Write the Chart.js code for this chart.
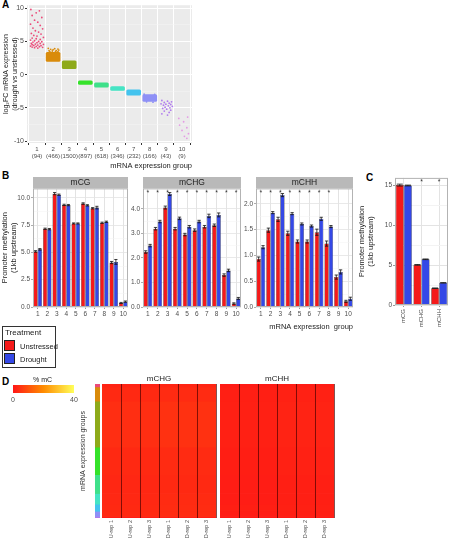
<!DOCTYPE html>
<html>
<head>
<meta charset="utf-8">
<script src="https://cdn.jsdelivr.net/npm/chart.js@4.4.1/dist/chart.umd.min.js"></script>
<style>
  body { margin: 0; background: #fff; width: 451px; height: 540px; position: relative; overflow: hidden;
         font-family: "Liberation Sans", Arial, sans-serif; }
  .box { position: absolute; }
  .tag { position: absolute; font-weight: bold; font-size: 10px; color: #000; }
  .legend { position: absolute; left: 2px; top: 326px; width: 52px; height: 40px; border: 1px solid #333; font-size: 7.5px; color: #222; }
  .legend .sw { position: absolute; left: 1px; width: 11px; height: 11px; border: 1px solid #222; box-sizing: border-box; }
  .legend span { position: absolute; left: 17px; }
  .cbar { position: absolute; left: 13px; top: 385px; width: 61px; height: 8px;
          background: linear-gradient(to right, rgb(255,22,22), rgb(255,140,0), rgb(255,255,90)); }
  .small { position: absolute; font-size: 7px; color: #4d4d4d; }
</style>
</head>
<body>
<div class="tag" style="left:2px;top:-1px">A</div>
<div class="tag" style="left:2px;top:170px">B</div>
<div class="tag" style="left:366px;top:172px">C</div>
<div class="tag" style="left:2px;top:376px">D</div>

<div class="box" style="left:0;top:0"><canvas id="chartA" width="200" height="170"></canvas></div>
<div class="box" style="left:0;top:177px"><canvas id="chartMCG" width="131" height="158"></canvas></div>
<div class="box" style="left:129px;top:177px"><canvas id="chartMCHG" width="114" height="158"></canvas></div>
<div class="box" style="left:242px;top:177px"><canvas id="chartMCHH" width="113" height="158"></canvas></div>
<div class="box" style="left:357px;top:173px"><canvas id="chartC" width="94" height="167"></canvas></div>

<div class="legend">
  <span style="left:2px;top:1px;font-size:8px">Treatment</span>
  <div class="sw" style="top:13px;background:#F41A1A"></div><span style="top:15px">Unstressed</span>
  <div class="sw" style="top:26px;background:#3448E6"></div><span style="top:28px">Drought</span>
</div>

<div class="small" style="left:33px;top:376px;color:#222">% mC</div>
<div class="cbar"></div>
<div class="small" style="left:11px;top:396px">0</div>
<div class="small" style="left:70px;top:396px">40</div>

<div class="box" style="left:79px;top:374px"><canvas id="chartStrip" width="21" height="166"></canvas></div>
<div class="box" style="left:101px;top:374px"><canvas id="chartHeatCHG" width="116" height="166"></canvas></div>
<div class="box" style="left:219px;top:374px"><canvas id="chartHeatCHH" width="116" height="166"></canvas></div>

<script>
// grupos de expresion
const groupNums = [1, 2, 3, 4, 5, 6, 7, 8, 9, 10];
const groupCounts = [94, 466, 1500, 897, 618, 346, 232, 166, 43, 9];
const groupColors = ['#EC4A79', '#D98B0B', '#8EAA1A', '#35E22A', '#3FE08A', '#45E4C4', '#44C3EE', '#8E90F6', '#B07AEE', '#E49AE4'];

// A: log2FC, bloques densos y puntos sueltos
const blockGroups = [2, 3, 4, 5, 6, 7, 8];
const blockRanges = [[1.97, 3.35], [0.9, 2.07], [-0.92, -1.48], [-1.25, -1.88], [-1.8, -2.4], [-2.3, -3.1], [-3.0, -4.05]];
const group1Points = [[0.62,9.8],[1.15,9.6],[0.95,9.3],[0.7,8.9],[1.3,8.6],[0.85,8.2],[1.05,7.9],[0.6,7.6],[1.2,7.4],
  [0.75,7.0],[1.35,6.9],[0.9,6.6],[1.1,6.4],[0.65,6.2],[1.25,6.1],[0.8,5.9],[1.0,5.8],[1.4,5.6],[0.7,5.5],[0.95,5.4],
  [1.2,5.3],[0.6,5.2],[0.85,5.1],[1.1,5.0],[1.3,4.95],[0.75,4.9],[1.0,4.8],[0.65,4.7],[1.2,4.7],[0.9,4.6],[1.4,4.55],
  [0.7,4.5],[1.05,4.45],[0.8,4.4],[1.25,4.35],[0.6,4.3],[0.95,4.25],[1.15,4.2],[0.7,4.15],[1.35,4.1],[0.85,4.05],[1.05,4.0]];
const group2Points = [[1.7,3.95],[2.1,3.9],[2.3,3.85],[1.85,3.8],[2.0,3.75],[2.35,3.7],[1.75,3.6],[2.2,3.6],[1.95,3.55],
  [2.15,3.5],[1.8,3.45],[2.3,3.45]];
const group8Points = [[7.65,-2.95],[8.3,-3.0],[7.8,-4.1],[8.2,-4.15]];
const group9Points = [[8.75,-3.9],[9.1,-4.0],[9.35,-4.1],[8.9,-4.2],[9.2,-4.3],[8.7,-4.4],[9.0,-4.45],[9.3,-4.5],[8.85,-4.6],
  [9.15,-4.7],[9.4,-4.8],[8.95,-4.9],[9.25,-5.0],[8.8,-5.1],[9.05,-5.2],[9.3,-5.35],[8.9,-5.5],[9.2,-5.7],[8.75,-5.9],[9.1,-6.1]];
const group10Points = [[10.35,-6.4],[9.8,-6.6],[10.1,-7.1],[9.85,-7.6],[10.3,-8.0],[10.0,-8.4],[10.4,-8.9],[10.15,-9.3],[10.3,-9.6]];
const yTicksA = [-10, -7.5, -5, -2.5, 0, 2.5, 5, 7.5, 10];

// B: metilacion del promotor por grupo
const mcgU = [5.09, 7.16, 10.38, 9.35, 7.65, 9.47, 9.04, 7.71, 4.07, 0.37];
const mcgD = [5.28, 7.13, 10.28, 9.33, 7.65, 9.31, 9.1, 7.8, 4.13, 0.49];
const mcgErrU = [0.07, 0.06, 0.1, 0.06, 0.05, 0.07, 0.06, 0.06, 0.1, 0.05];
const mcgErrD = [0.07, 0.06, 0.06, 0.06, 0.05, 0.06, 0.12, 0.06, 0.22, 0.06];
const mchgU = [2.24, 3.19, 4.05, 3.19, 2.95, 3.13, 3.27, 3.33, 1.3, 0.14];
const mchgD = [2.5, 3.48, 4.6, 3.61, 3.27, 3.48, 3.71, 3.75, 1.49, 0.35];
const mchgErrU = [0.05, 0.05, 0.06, 0.05, 0.05, 0.05, 0.05, 0.05, 0.05, 0.03];
const mchgErrD = [0.05, 0.05, 0.06, 0.05, 0.05, 0.05, 0.07, 0.08, 0.05, 0.04];
const mchhU = [0.93, 1.49, 1.7, 1.43, 1.27, 1.27, 1.45, 1.23, 0.58, 0.11];
const mchhD = [1.16, 1.83, 2.17, 1.81, 1.61, 1.57, 1.71, 1.56, 0.68, 0.16];
const mchhErrU = [0.04, 0.04, 0.04, 0.04, 0.03, 0.03, 0.06, 0.05, 0.04, 0.02];
const mchhErrD = [0.03, 0.02, 0.03, 0.02, 0.02, 0.02, 0.03, 0.02, 0.04, 0.03];
const mcgSig = [false, false, false, false, false, false, false, false, false, false];
const mchgSig = [true, true, true, true, true, true, true, true, true, true];
const mchhSig = [true, true, true, true, true, true, true, true, false, false];
const mcgTicks = [0, 2.5, 5, 7.5, 10];
const mchgTicks = [0, 1, 2, 3, 4];
const mchhTicks = [0, 0.5, 1, 1.5, 2];

// C: promedio por contexto
const contexts = ['mCG', 'mCHG', 'mCHH'];
const promU = [15.0, 5.02, 2.1];
const promD = [14.95, 5.72, 2.77];
const promErrU = [0.12, 0.04, 0.03];
const promErrD = [0.05, 0.04, 0.03];
const promSig = [false, true, true];
const promTicks = [0, 5, 10, 15];

// D: heatmap
const heatCols = ['U-rep 1', 'U-rep 2', 'U-rep 3', 'D-rep 1', 'D-rep 2', 'D-rep 3'];
const heatScale = [0, 40];

const RED = '#F41A1A', BLUE = '#3448E6';
const FONT = '"Liberation Sans", Arial, sans-serif';
Chart.defaults.font.family = FONT;
Chart.defaults.font.size = 7;
Chart.defaults.color = '#4d4d4d';
Chart.defaults.plugins.legend.display = false;
Chart.defaults.plugins.tooltip.enabled = false;

const base = { responsive: false, animation: false, devicePixelRatio: 1, events: [] };
const fixW = w => s => { s.width = w; };
const fixH = h => s => { s.height = h; };
const setTicks = list => s => { s.ticks = list.map(v => ({ value: v })); };

// fondo, franja, barras de error, asteriscos y marco
const deco = {
  id: 'deco',
  beforeDraw(chart, args, o) {
    const a = chart.chartArea, c = chart.ctx;
    c.save();
    if (o.bg) { c.fillStyle = o.bg; c.fillRect(a.left, a.top, a.right - a.left, a.bottom - a.top); }
    if (o.strip) { c.fillStyle = o.strip; c.fillRect(a.left, a.top - o.stripH, a.right - a.left, o.stripH); }
    c.restore();
  },
  afterDatasetsDraw(chart, args, o) {
    const c = chart.ctx, a = chart.chartArea, ys = chart.scales.y, xs = chart.scales.x;
    c.save();
    chart.data.datasets.forEach((ds, i) => {
      if (!ds.errors) return;
      chart.getDatasetMeta(i).data.forEach((bar, j) => {
        const v = ds.data[j], e = ds.errors[j];
        const y1 = ys.getPixelForValue(v + e), y2 = ys.getPixelForValue(v - e);
        const hw = bar.width * 0.38;
        c.strokeStyle = '#111'; c.lineWidth = 0.8;
        c.beginPath();
        c.moveTo(bar.x, y1); c.lineTo(bar.x, y2);
        c.moveTo(bar.x - hw, y1); c.lineTo(bar.x + hw, y1);
        c.moveTo(bar.x - hw, y2); c.lineTo(bar.x + hw, y2);
        c.stroke();
      });
    });
    if (o.stars) {
      c.fillStyle = '#333'; c.font = '7px ' + FONT; c.textAlign = 'center'; c.textBaseline = 'top';
      o.stars.forEach((s, j) => { if (s) c.fillText('*', xs.getPixelForValue(j), a.top + 1); });
    }
    if (o.frame) {
      c.strokeStyle = o.frame; c.lineWidth = 1;
      c.strokeRect(a.left + 0.5, a.top + 0.5, a.right - a.left - 1, a.bottom - a.top - 1);
    }
    c.restore();
  }
};

// A
const scatterSets = [[group1Points, 0], [group2Points, 1], [group8Points, 7], [group9Points, 8], [group10Points, 9]];
new Chart(document.getElementById('chartA'), {
  type: 'bar',
  data: {
    datasets: [
      { type: 'bar', data: blockGroups.map((g, i) => ({ x: g, y: blockRanges[i] })),
        backgroundColor: blockGroups.map(g => groupColors[g - 1]), barThickness: 14, borderRadius: 1.5, borderSkipped: false }
    ].concat(scatterSets.map(([pts, ci]) => ({
      type: 'scatter', data: pts.map(p => ({ x: p[0], y: p[1] })),
      backgroundColor: groupColors[ci], pointRadius: 0.9, borderWidth: 0
    })))
  },
  options: Object.assign({}, base, {
    layout: { padding: { top: 3, right: 8 } },
    plugins: { deco: { bg: '#EBEBEB' } },
    scales: {
      x: { type: 'linear', offset: false, min: 0.38, max: 10.62, afterBuildTicks: setTicks(groupNums), afterFit: fixH(27),
        ticks: { callback: v => [String(v), '(' + groupCounts[v - 1] + ')'], maxRotation: 0, autoSkip: false, padding: 1, font: { size: 6 } },
        grid: { color: '#fff', tickColor: '#333', tickLength: 2 }, border: { display: false },
        title: { display: true, text: 'mRNA expression group', align: 'end', color: '#222', font: { size: 7.5 }, padding: 0 } },
      y: { min: -10.3, max: 10.45, afterBuildTicks: setTicks(yTicksA), afterFit: fixW(27),
        ticks: { callback: v => (v % 5 === 0 ? String(v) : ''), padding: 1 },
        grid: { color: ctx => (ctx.tick && ctx.tick.value % 5 === 0 ? '#fff' : '#F5F5F5'),
                lineWidth: ctx => (ctx.tick && ctx.tick.value % 5 === 0 ? 1 : 0.5),
                tickColor: ctx => (ctx.tick && ctx.tick.value % 5 === 0 ? '#333' : 'rgba(0,0,0,0)'), tickLength: 2 },
        border: { display: false },
        title: { display: true, text: ['log\u2082FC mRNA expression', '(drought vs unstressed)'], color: '#222', font: { size: 7 }, padding: { top: 2 } } }
    }
  }),
  plugins: [deco]
});

// B
function facet(id, name, u, d, eu, ed, sig, major, yMax, yW, opts) {
  const minor = major.slice(1).map((v, i) => (v + major[i]) / 2);
  const all = major.concat(minor);
  const isMajor = ctx => ctx.tick && major.includes(ctx.tick.value);
  new Chart(document.getElementById(id), {
    type: 'bar',
    data: {
      labels: groupNums.map(String),
      datasets: [
        { data: u, errors: eu, backgroundColor: RED, borderColor: '#1a1a1a', borderWidth: 0.5, categoryPercentage: 0.9, barPercentage: 0.98 },
        { data: d, errors: ed, backgroundColor: BLUE, borderColor: '#1a1a1a', borderWidth: 0.5, categoryPercentage: 0.9, barPercentage: 0.98 }
      ]
    },
    options: Object.assign({}, base, {
      layout: { padding: { right: opts.padR } },
      plugins: {
        title: { display: true, text: name, fullSize: false, color: '#222', font: { size: 8.5, weight: 'normal' }, padding: { top: 0.6, bottom: 0.6 } },
        deco: { strip: '#B9B9B9', stripH: 11.4, frame: '#B3B3B3', stars: sig }
      },
      scales: {
        x: { afterFit: fixH(28), ticks: { padding: 1, maxRotation: 0, autoSkip: false, font: { size: 6.5 } },
          grid: { offset: false, color: '#E3E3E3', tickColor: '#999', tickLength: 2 }, border: { display: false },
          title: { display: !!opts.xTitle, text: opts.xTitle || '', align: 'end', color: '#222', font: { size: 7.5 }, padding: { top: 2 } } },
        y: { min: 0, max: yMax, afterBuildTicks: setTicks(all), afterFit: fixW(yW),
          ticks: { callback: v => (major.includes(v) ? v.toFixed(1) : ''), padding: 1, font: { size: 6.5 } },
          grid: { color: ctx => (isMajor(ctx) ? '#E3E3E3' : '#F3F3F3'), lineWidth: ctx => (isMajor(ctx) ? 0.8 : 0.5),
                  tickColor: ctx => (isMajor(ctx) ? '#999' : 'rgba(0,0,0,0)'), tickLength: 2 },
          border: { display: false },
          title: { display: !!opts.yTitle, text: opts.yTitle || '', color: '#222', font: { size: 7.5 }, padding: 0 } }
      }
    }),
    plugins: [deco]
  });
}
facet('chartMCG', 'mCG', mcgU, mcgD, mcgErrU, mcgErrD, mcgSig, mcgTicks, 10.86, 33,
  { padR: 3, yTitle: ['Promoter methylation', '(1kb upstream)'] });
facet('chartMCHG', 'mCHG', mchgU, mchgD, mchgErrU, mchgErrD, mchgSig, mchgTicks, 4.83, 14, { padR: 2 });
facet('chartMCHH', 'mCHH', mchhU, mchhD, mchhErrU, mchhErrD, mchhSig, mchhTicks, 2.3, 14,
  { padR: 2, xTitle: 'mRNA expression  group' });

// C
new Chart(document.getElementById('chartC'), {
  type: 'bar',
  data: {
    labels: contexts,
    datasets: [
      { data: promU, errors: promErrU, backgroundColor: RED, borderColor: '#1a1a1a', borderWidth: 0.5, categoryPercentage: 0.92, barPercentage: 0.98 },
      { data: promD, errors: promErrD, backgroundColor: BLUE, borderColor: '#1a1a1a', borderWidth: 0.5, categoryPercentage: 0.92, barPercentage: 0.98 }
    ]
  },
  options: Object.assign({}, base, {
    layout: { padding: { top: 2, right: 3 } },
    plugins: { deco: { frame: '#B3B3B3', stars: promSig } },
    scales: {
      x: { afterFit: fixH(35), ticks: { minRotation: 90, maxRotation: 90, padding: 2, font: { size: 6 } },
        grid: { offset: false, color: '#E3E3E3', tickColor: '#999', tickLength: 2 }, border: { display: false } },
      y: { min: 0, max: 15.9, afterBuildTicks: setTicks([0, 2.5, 5, 7.5, 10, 12.5, 15]), afterFit: fixW(38),
        ticks: { callback: v => (promTicks.includes(v) ? String(v) : ''), padding: 1, font: { size: 6.5 } },
        grid: { color: ctx => (ctx.tick && promTicks.includes(ctx.tick.value) ? '#E3E3E3' : '#F3F3F3'),
                tickColor: ctx => (ctx.tick && promTicks.includes(ctx.tick.value) ? '#999' : 'rgba(0,0,0,0)'), tickLength: 2 },
        border: { display: false },
        title: { display: true, text: ['Promoter methylation', '(1kb upstream)'], color: '#222', font: { size: 7.5 }, padding: 0 } }
    }
  }),
  plugins: [deco]
});

// D
const totalGenes = groupCounts.reduce((a, b) => a + b, 0);
function heatColor(v) {
  const t = Math.max(0, Math.min(1, (v - heatScale[0]) / (heatScale[1] - heatScale[0])));
  const stops = [[255, 22, 22], [255, 140, 0], [255, 255, 90]];
  const seg = t < 0.5 ? 0 : 1, f = t < 0.5 ? t * 2 : (t - 0.5) * 2;
  const a = stops[seg], b = stops[seg + 1];
  return 'rgb(' + a.map((c, k) => Math.round(c + (b[k] - c) * f)).join(',') + ')';
}

new Chart(document.getElementById('chartStrip'), {
  type: 'bar',
  data: {
    labels: [''],
    datasets: groupCounts.map((n, i) => ({ data: [n], backgroundColor: groupColors[i], categoryPercentage: 1, barPercentage: 1 }))
  },
  options: Object.assign({}, base, {
    layout: { padding: { top: 10, bottom: 22 } },
    scales: {
      x: { stacked: true, display: false },
      y: { stacked: true, reverse: true, min: 0, max: totalGenes, afterFit: fixW(16),
        ticks: { display: false }, grid: { display: false }, border: { display: false },
        title: { display: true, text: 'mRNA expression groups', color: '#333', font: { size: 7 }, padding: 0 } }
    }
  })
});

function heatmap(id, name, u, d) {
  new Chart(document.getElementById(id), {
    type: 'bar',
    data: {
      labels: heatCols,
      datasets: groupCounts.map((n, i) => ({
        data: heatCols.map(() => n),
        backgroundColor: heatCols.map((c, k) => heatColor(k < 3 ? u[i] : d[i])),
        categoryPercentage: 1, barPercentage: 1, borderWidth: 0
      }))
    },
    options: Object.assign({}, base, {
      layout: { padding: { left: 1, right: 1 } },
      plugins: { title: { display: true, text: name, fullSize: false, color: '#222', font: { size: 8, weight: 'normal' }, padding: { top: 0, bottom: 0.4 } } },
      scales: {
        x: { stacked: true, afterFit: fixH(22), ticks: { minRotation: 90, maxRotation: 90, padding: 2, font: { size: 5.5 } },
          grid: { offset: true, z: 1, drawTicks: false, lineWidth: 0.8,
                  color: ctx => (ctx.index === 0 || ctx.index >= heatCols.length ? 'rgba(0,0,0,0)' : 'rgba(70,0,0,0.85)') },
          border: { display: false } },
        y: { stacked: true, reverse: true, min: 0, max: totalGenes, display: false }
      }
    })
  });
}
heatmap('chartHeatCHG', 'mCHG', mchgU, mchgD);
heatmap('chartHeatCHH', 'mCHH', mchhU, mchhD);
</script>
</body>
</html>
